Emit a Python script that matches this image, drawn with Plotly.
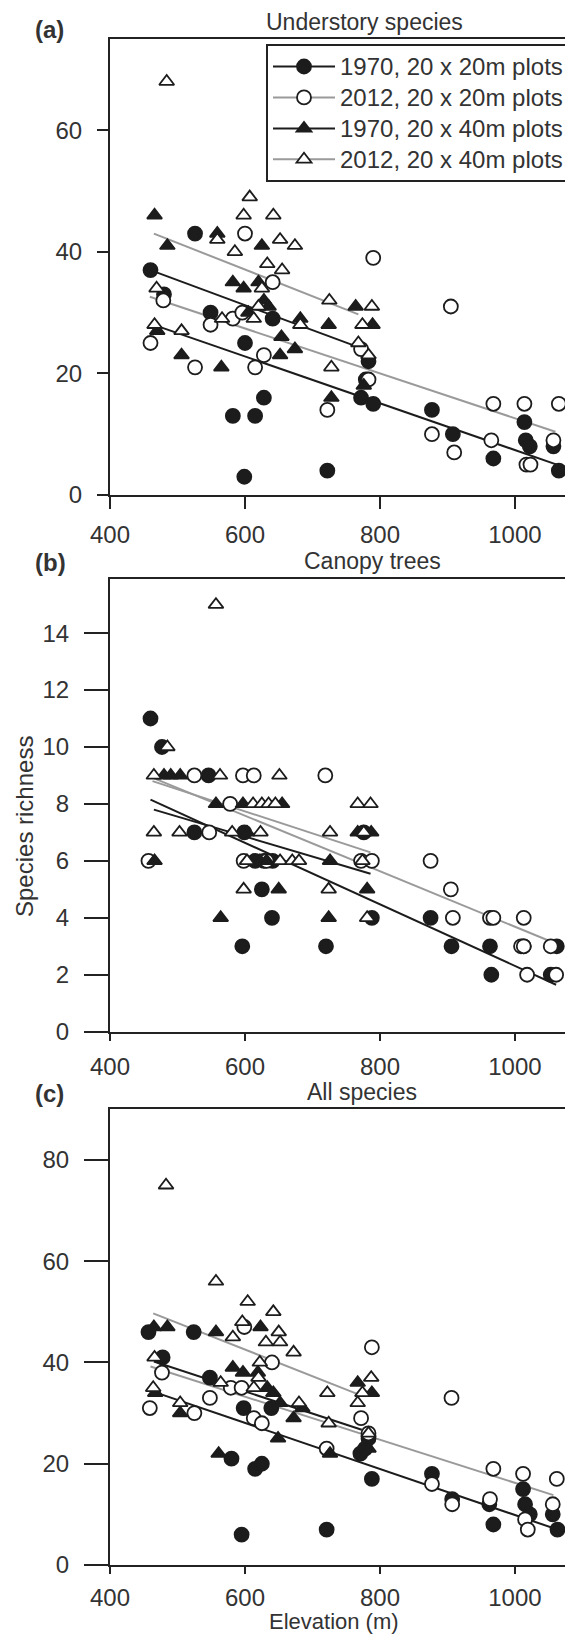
import plotly.graph_objects as go

# page has an 8px body margin; figure is sized/shifted to compensate
OFF = 8
SW, SH = 573, 1635               # screen size
W, H = SW - OFF, SH - OFF        # figure size
FONT = "Liberation Sans, Arial, Helvetica, sans-serif"
TXT = "#333333"
AX = "#222222"

# ---------------- data ----------------
elev_ticks = [400, 600, 800, 1000]

# (a) Understory species
a_c70_x = [460, 480, 526, 549, 582, 600, 599, 615, 628, 641, 722, 772, 779, 783, 790, 877, 908, 968, 1014, 1016, 1022, 1057, 1065]
a_c70_y = [37, 33, 43, 30, 13, 25, 3, 13, 16, 29, 4, 16, 19, 22, 15, 14, 10, 6, 12, 9, 8, 8, 4]
a_c12_x = [460, 479, 526, 549, 582, 596, 600, 615, 628, 641, 722, 772, 783, 790, 877, 905, 910, 965, 968, 1014, 1017, 1023, 1057, 1065]
a_c12_y = [25, 32, 21, 28, 29, 30, 43, 21, 23, 35, 14, 24, 19, 39, 10, 31, 7, 9, 15, 15, 5, 5, 9, 15]
a_t70_x = [466, 470, 485, 506, 559, 565, 582, 598, 605, 620, 625, 628, 635, 652, 654, 674, 682, 724, 728, 764, 776, 789]
a_t70_y = [46, 27, 41, 23, 43, 21, 35, 34, 30, 35, 41, 32, 31, 23, 26, 24, 29, 28, 16, 31, 18, 28]
a_t12_x = [484, 607, 598, 642, 559, 652, 674, 585, 633, 655, 625, 469, 566, 620, 613, 682, 466, 506, 725, 788, 774, 768, 783, 728]
a_t12_y = [68, 49, 46, 46, 42, 42, 41, 40, 38, 37, 34, 34, 29, 31, 29, 28, 28, 27, 32, 31, 28, 25, 23, 21]
a_fit_c70_x, a_fit_c70_y = [467, 1062], [27.9, 5.0]
a_fit_c12_x, a_fit_c12_y = [459, 1060], [32.6, 10.4]
a_fit_t70_x, a_fit_t70_y = [462, 771], [36.9, 24.2]
a_fit_t12_x, a_fit_t12_y = [465, 768], [43.0, 29.7]

# (b) Canopy trees
b_c70_x = [460, 477, 525, 546, 599, 615, 628, 641, 625, 640, 596, 720, 776, 788, 875, 906, 963, 965, 1013, 1053, 1062]
b_c70_y = [11, 10, 7, 9, 7, 6, 6, 6, 5, 4, 3, 3, 7, 4, 4, 3, 3, 2, 3, 2, 3]
b_c12_x = [457, 525, 547, 578, 597, 598, 613, 632, 719, 772, 788, 875, 905, 908, 963, 968, 1009, 1013, 1013, 1018, 1053, 1061]
b_c12_y = [6, 9, 7, 8, 9, 6, 9, 6, 9, 6, 6, 6, 5, 4, 4, 4, 3, 3, 4, 2, 3, 2]
b_t70_x = [466, 480, 490, 504, 557, 564, 597, 603, 612, 622, 632, 650, 655, 726, 724, 767, 781, 787]
b_t70_y = [6, 9, 9, 9, 8, 4, 8, 7, 6, 6, 6, 5, 8, 6, 4, 7, 5, 7]
b_t12_x = [465, 485, 557, 563, 651, 612, 625, 635, 645, 767, 786, 465, 503, 581, 623, 726, 776, 603, 652, 670, 680, 774, 598, 724, 781]
b_t12_y = [9, 10, 15, 9, 9, 8, 8, 8, 8, 8, 8, 7, 7, 7, 7, 7, 7, 6, 6, 6, 6, 6, 5, 5, 4]
b_fit_c70_x, b_fit_c70_y = [460, 1061], [8.15, 1.65]
b_fit_c12_x, b_fit_c12_y = [460, 1055], [8.95, 3.15]
b_fit_t70_x, b_fit_t70_y = [465, 786], [7.8, 5.55]
b_fit_t12_x, b_fit_t12_y = [463, 786], [8.8, 6.3]

# (c) All species
c_c70_x = [457, 478, 524, 548, 580, 598, 595, 615, 625, 639, 721, 771, 778, 783, 788, 877, 907, 962, 968, 1012, 1015, 1022, 1056, 1063]
c_c70_y = [46, 41, 46, 37, 21, 31, 6, 19, 20, 31, 7, 22, 23, 25, 17, 18, 13, 12, 8, 15, 12, 10, 10, 7]
c_c12_x = [459, 477, 525, 548, 579, 595, 599, 613, 625, 640, 721, 772, 783, 788, 877, 906, 907, 963, 968, 1012, 1015, 1019, 1056, 1062]
c_c12_y = [31, 38, 30, 33, 35, 35, 47, 29, 28, 40, 23, 29, 26, 43, 16, 33, 12, 13, 19, 18, 9, 7, 12, 17]
c_t70_x = [465, 485, 557, 623, 467, 504, 561, 582, 597, 619, 633, 642, 652, 649, 672, 685, 726, 767, 788, 783]
c_t70_y = [47, 47, 46, 47, 34, 30, 22, 39, 38, 38, 35, 34, 32, 25, 29, 31, 22, 36, 34, 23]
c_t12_x = [483, 557, 604, 642, 596, 650, 582, 631, 652, 672, 466, 622, 620, 564, 613, 464, 504, 680, 722, 787, 774, 767, 724, 783]
c_t12_y = [75, 56, 52, 50, 48, 46, 45, 44, 44, 42, 41, 40, 37, 36, 35, 35, 32, 32, 34, 37, 34, 32, 28, 26]
c_fit_c70_x, c_fit_c70_y = [465, 1062], [34.2, 7.05]
c_fit_c12_x, c_fit_c12_y = [460, 1057], [39.2, 13.8]
c_fit_t70_x, c_fit_t70_y = [465, 773], [40.2, 26.7]
c_fit_t12_x, c_fit_t12_y = [464, 768], [49.7, 33.7]

series_names = ["1970, 20 x 20m plots", "2012, 20 x 20m plots",
                "1970, 20 x 40m plots", "2012, 20 x 40m plots"]

# ---------------- layout geometry (screen pixels) ----------------
ML_S = 110                      # y-axis line position on screen
ML = ML_S - OFF
X_RANGE = [400, 1086]
panels = [
    dict(top=39, bottom=495, yrange=[0, 75], yticks=[0, 20, 40, 60], yticklen=11, xticklen=12, xstand=5),
    dict(top=579, bottom=1031.7, yrange=[0, 15.9], yticks=[0, 2, 4, 6, 8, 10, 12, 14], yticklen=24, xticklen=7, xstand=5),
    dict(top=1109.3, bottom=1565, yrange=[0, 90], yticks=[0, 20, 40, 60, 80], yticklen=24, xticklen=7, xstand=3),
]


def py(v):
    return 1 - (v - OFF) / H


def px(v):
    return (v - OFF - ML) / (W - ML)


BLACK = "#1c1c1c"
GRAY = "#9a9a9a"
styles = [
    dict(symbol="circle", fill=BLACK, line=BLACK, size=14),
    dict(symbol="circle", fill="white", line=BLACK, size=14),
    dict(symbol="triangle-up", fill=BLACK, line=BLACK, size=13),
    dict(symbol="triangle-up", fill="white", line=BLACK, size=13),
]
line_cols = [BLACK, GRAY, BLACK, GRAY]

panel_data = [
    ([(a_c70_x, a_c70_y), (a_c12_x, a_c12_y), (a_t70_x, a_t70_y), (a_t12_x, a_t12_y)],
     [(a_fit_c70_x, a_fit_c70_y), (a_fit_c12_x, a_fit_c12_y), (a_fit_t70_x, a_fit_t70_y), (a_fit_t12_x, a_fit_t12_y)]),
    ([(b_c70_x, b_c70_y), (b_c12_x, b_c12_y), (b_t70_x, b_t70_y), (b_t12_x, b_t12_y)],
     [(b_fit_c70_x, b_fit_c70_y), (b_fit_c12_x, b_fit_c12_y), (b_fit_t70_x, b_fit_t70_y), (b_fit_t12_x, b_fit_t12_y)]),
    ([(c_c70_x, c_c70_y), (c_c12_x, c_c12_y), (c_t70_x, c_t70_y), (c_t12_x, c_t12_y)],
     [(c_fit_c70_x, c_fit_c70_y), (c_fit_c12_x, c_fit_c12_y), (c_fit_t70_x, c_fit_t70_y), (c_fit_t12_x, c_fit_t12_y)]),
]

fig = go.Figure()
layout = {}
for i, (pts, fits) in enumerate(panel_data):
    sfx = "" if i == 0 else str(i + 1)
    xa, ya = "x" + sfx, "y" + sfx
    for k, (fx, fy) in enumerate(fits):
        fig.add_trace(go.Scatter(x=fx, y=fy, mode="lines", xaxis=xa, yaxis=ya,
                                 line=dict(color=line_cols[k], width=2), showlegend=False,
                                 hoverinfo="skip"))
    for k, (sx, sy) in enumerate(pts):
        st = styles[k]
        fig.add_trace(go.Scatter(x=sx, y=sy, mode="markers", xaxis=xa, yaxis=ya,
                                 marker=dict(symbol=st["symbol"], size=st["size"], color=st["fill"],
                                             line=dict(color=st["line"], width=1.8)),
                                 showlegend=False, cliponaxis=False))
    p = panels[i]
    layout["xaxis" + sfx] = dict(
        domain=[0, 1], range=X_RANGE, anchor=ya, tickvals=elev_ticks, ticks="outside",
        ticklen=p["xticklen"], tickwidth=2, tickcolor=AX, showline=True, linecolor=AX,
        linewidth=2, mirror=True, showgrid=False, zeroline=False,
        tickfont=dict(size=24, color=TXT, family=FONT), ticklabelstandoff=p["xstand"])
    layout["yaxis" + sfx] = dict(
        domain=[py(p["bottom"]), py(p["top"])], range=p["yrange"], anchor=xa,
        tickvals=p["yticks"], ticks="outside", ticklen=p["yticklen"], tickwidth=2,
        tickcolor=AX, showline=True, linecolor=AX, linewidth=2, showgrid=False,
        zeroline=False, tickfont=dict(size=24, color=TXT, family=FONT), ticklabelstandoff=10)

# legend entries (legend-only helper traces)
for k in range(4):
    st = styles[k]
    fig.add_trace(go.Scatter(x=[None], y=[None], mode="lines+markers",
                             name='<span style="font-size:24px">%s</span>' % series_names[k],
                             line=dict(color=line_cols[k], width=2),
                             marker=dict(symbol=st["symbol"], size=st["size"], color=st["fill"],
                                         line=dict(color=st["line"], width=1.8))))

ann = []
for lab, ylab, title, xt, yt in [("(a)", 29, "Understory species", 364, 22),
                                 ("(b)", 562, "Canopy trees", 372, 561),
                                 ("(c)", 1093, "All species", 362, 1092)]:
    ann.append(dict(text="<b>%s</b>" % lab, x=px(33), y=py(ylab), xref="paper", yref="paper",
                    xanchor="left", yanchor="middle", showarrow=False,
                    font=dict(size=24, color=TXT, family=FONT)))
    ann.append(dict(text=title, x=px(xt), y=py(yt), xref="paper", yref="paper",
                    xanchor="center", yanchor="middle", showarrow=False,
                    font=dict(size=23, color=TXT, family=FONT)))
ann.append(dict(text="Species richness", x=px(24), y=py(827), xref="paper", yref="paper",
                xanchor="center", yanchor="middle", textangle=-90, showarrow=False,
                font=dict(size=24, color=TXT, family=FONT)))
ann.append(dict(text="Elevation (m)", x=px(334), y=py(1621), xref="paper", yref="paper",
                xanchor="center", yanchor="middle", showarrow=False,
                font=dict(size=22, color=TXT, family=FONT)))

fig.update_layout(
    width=W, height=H, margin=dict(l=ML, r=0, t=0, b=0, pad=0, autoexpand=False),
    paper_bgcolor="white", plot_bgcolor="white",
    font=dict(family=FONT, size=24, color=TXT),
    showlegend=True,
    legend=dict(x=px(266), y=py(44), xanchor="left", yanchor="top", bgcolor="white",
                bordercolor=AX, borderwidth=2, font=dict(size=21.5, color=TXT, family=FONT),
                itemwidth=62, tracegroupgap=0, entrywidth=370),
    annotations=ann,
    **layout,
)

fig.write_html("out.html")
